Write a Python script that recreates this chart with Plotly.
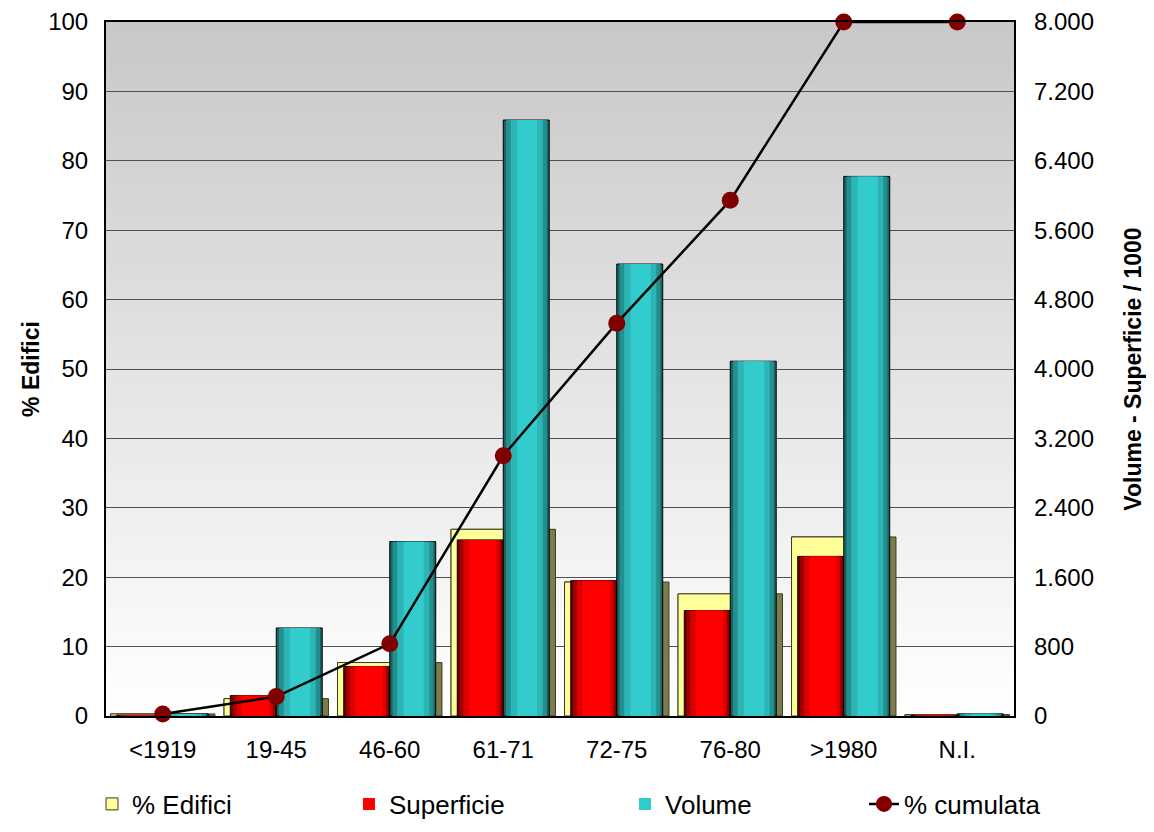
import plotly.graph_objects as go

# ---- data ----
categories = ["<1919", "19-45", "46-60", "61-71", "72-75", "76-80", ">1980", "N.I."]
edifici = [0.3, 2.5, 7.7, 26.9, 19.3, 17.6, 25.8, 0.2]          # % Edifici (left axis)
superficie = [10, 235, 570, 2030, 1560, 1215, 1840, 5]          # Superficie / 1000 (right axis)
volume = [20, 1015, 2010, 6870, 5210, 4090, 6220, 25]           # Volume / 1000 (right axis)
cumulata = [0.3, 2.8, 10.4, 37.5, 56.6, 74.3, 100, 100]         # % cumulata (left scale)

FONT = "Liberation Sans, Arial, sans-serif"

fig = go.Figure()

# % Edifici : olive 3D side + yellow front
fig.add_trace(go.Bar(x=categories, y=edifici, offset=-0.46, width=0.92,
                     marker=dict(color="#7d7d4c", line=dict(color="#3a3a20", width=1)),
                     yaxis="y", showlegend=False, hoverinfo="skip"))
fig.add_trace(go.Bar(x=categories, y=edifici, offset=-0.46, width=0.86, name="% Edifici",
                     marker=dict(color="#ffff99", line=dict(color="#3a3a20", width=1)),
                     yaxis="y", legend="legend"))


def shaded_bar(values, offset, width, layers, name, legend):
    for i, (a, b, col) in enumerate(layers):
        first = i == 0
        fig.add_trace(go.Bar(
            x=categories, y=values, offset=offset + width * a, width=width * (b - a),
            marker=dict(color=col, line=dict(color="#000000" if first else col, width=1 if first else 0)),
            yaxis="y2", name=name, showlegend=(i == len(layers) - 1), legend=legend,
            hoverinfo="skip" if not first else None))


shaded_bar(superficie, -0.405, 0.405,
           [(0.0, 1.0, "#6a0000"), (0.05, 0.97, "#a00000"), (0.13, 0.92, "#d80000"), (0.25, 0.85, "#ff0000")],
           "Superficie", "legend2")
shaded_bar(volume, 0.0, 0.405,
           [(0.0, 1.0, "#1b6262"), (0.06, 0.95, "#248f8f"), (0.16, 0.86, "#2db4b4"), (0.3, 0.74, "#33cccc")],
           "Volume", "legend3")

fig.add_trace(go.Scatter(x=categories, y=cumulata, name="% cumulata", mode="lines+markers",
                         line=dict(color="#000000", width=2.5),
                         marker=dict(color="#800000", size=17),
                         cliponaxis=False, yaxis="y3", legend="legend4"))

# background gradient
n = 100
top_c, bot_c = 200, 255
shapes = []
for i in range(n):
    t = i / (n - 1)
    c = round(bot_c + (top_c - bot_c) * t)
    shapes.append(dict(type="rect", xref="x domain", yref="y domain",
                       x0=0, x1=1, y0=i / n, y1=(i + 1) / n + 0.002,
                       fillcolor=f"rgb({c},{c},{c})", line=dict(width=0), layer="below"))

leg_common = dict(orientation="h", yanchor="middle", y=-0.1268, xanchor="left",
                  font=dict(family=FONT, size=26, color="#000000"),
                  bgcolor="rgba(0,0,0,0)")

fig.update_layout(
    width=1138, height=816,
    margin=dict(l=98, r=132, t=14, b=108, autoexpand=False),
    paper_bgcolor="#ffffff", plot_bgcolor="rgba(0,0,0,0)",
    barmode="overlay",
    separators=",.",
    font=dict(family=FONT, size=24, color="#000000"),
    shapes=shapes,
    xaxis=dict(type="category", showline=True, linecolor="#000000", linewidth=2, mirror=True,
               ticks="", showgrid=False, ticklabelstandoff=11,
               tickfont=dict(family=FONT, size=24), range=[-0.5, 7.5]),
    yaxis=dict(range=[0, 100], dtick=10, showgrid=True, gridcolor="#505050", gridwidth=1,
               showline=True, linecolor="#000000", linewidth=2, mirror=True, ticks="",
               zeroline=False, ticklabelstandoff=11,
               title=dict(text="<b>% Edifici</b>", font=dict(family=FONT, size=23), standoff=2),
               tickfont=dict(family=FONT, size=24)),
    yaxis2=dict(range=[0, 8000], dtick=800, overlaying="y", side="right", showgrid=False,
                tickformat=",d", ticks="", zeroline=False, showline=False, ticklabelstandoff=19,
                title=dict(text="<b>Volume - Superficie / 1000</b>", font=dict(family=FONT, size=23),
                           standoff=47),
                tickfont=dict(family=FONT, size=24)),
    yaxis3=dict(range=[0, 100], overlaying="y", visible=False),
    legend=dict(x=-0.0154, **leg_common),
    legend2=dict(x=0.2676, **leg_common),
    legend3=dict(x=0.5716, **leg_common),
    legend4=dict(x=0.8348, **leg_common),
)

fig.write_html("out.html")
